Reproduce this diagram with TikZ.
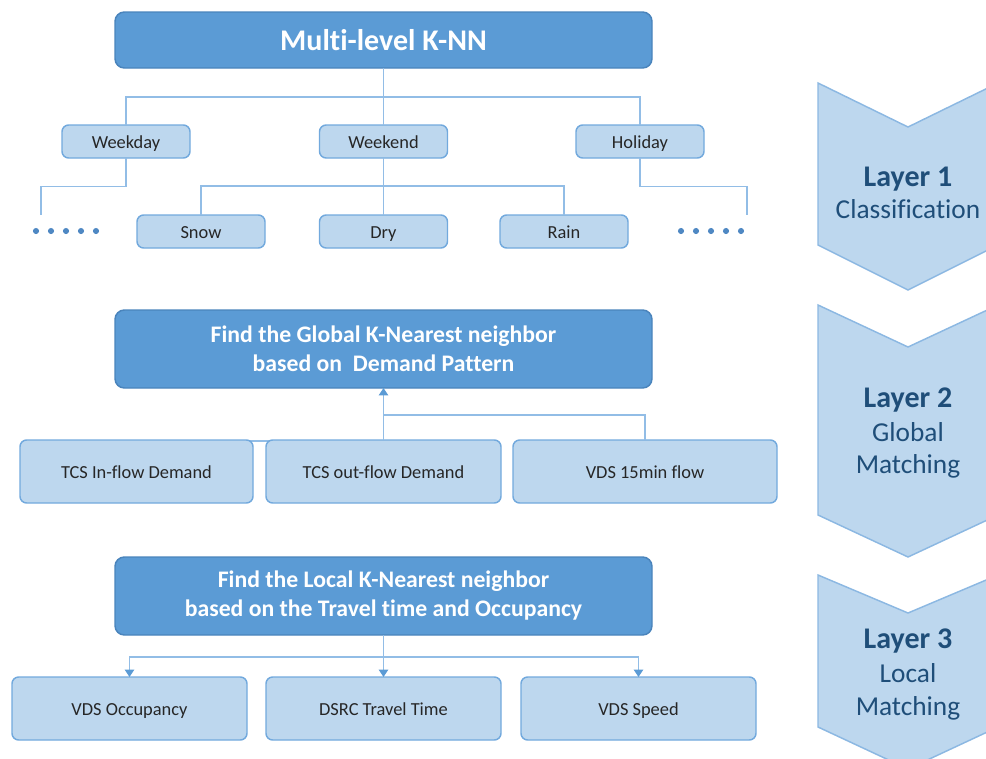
\documentclass[tikz,border=0pt]{standalone}
\usepackage{fontspec}
\setmainfont{Carlito}[Ligatures=NoCommon]
\usetikzlibrary{arrows.meta}
\definecolor{bigfill}{HTML}{5B9BD5}
\definecolor{bigline}{HTML}{4A84BC}
\definecolor{smallfill}{HTML}{BDD7EE}
\definecolor{smallline}{HTML}{72A9DD}
\definecolor{conn}{HTML}{92BDE6}
\definecolor{tipc}{HTML}{5B9BD5}
\definecolor{layertext}{HTML}{1F4E79}
\definecolor{chevfill}{HTML}{BDD7EE}
\definecolor{chevline}{HTML}{8CB8E2}
\definecolor{smalltext}{HTML}{262626}
\definecolor{dotc}{HTML}{4F88C3}
\tikzset{
  bigbox/.style={draw=bigline, fill=bigfill, line width=1.1pt, rounded corners=7pt,
    text=white, align=center, inner sep=0pt, outer sep=0pt, minimum width=402.75pt},
  smallbox/.style={draw=smallline, fill=smallfill, line width=1.1pt, rounded corners=5pt,
    text=smalltext, inner sep=0pt, outer sep=0pt, text height=12pt, text depth=0.8pt,
    font=\fontsize{13.8}{16}\selectfont},
  treebox/.style={smallbox, minimum width=96pt, minimum height=24.75pt, font=\fontsize{13.8}{16}\selectfont},
  wide/.style={smallbox, minimum height=47.25pt},
  connline/.style={draw=conn, line width=1.1pt},
  arr/.style={connline, -{Triangle[width=7pt,length=5.5pt,color=tipc]}},
  chev/.style={fill=chevfill, draw=chevline, line width=1.1pt},
  laybold/.style={anchor=base, text=layertext, font=\fontsize{22.5}{25}\selectfont\bfseries},
  layreg/.style={anchor=base, text=layertext, font=\fontsize{20.5}{25}\selectfont},
  bigtext/.style={font=\fontsize{17.8}{21.75}\selectfont\bfseries},
}
\begin{document}
\begin{tikzpicture}[x=0.75pt,y=-0.75pt]
\clip (0,0) rectangle (986,758);
\useasboundingbox (0,0) rectangle (986,758);

% chevrons
\draw[chev] (818,83) -- (908,127) -- (998,83) -- (998,245) -- (908,290) -- (818,245) -- cycle;
\draw[chev] (818,305) -- (908,347) -- (998,305) -- (998,515) -- (908,557) -- (818,515) -- cycle;
\draw[chev] (818,575) -- (908,613) -- (998,575) -- (998,727) -- (908,769) -- (818,727) -- cycle;
\node[laybold] (l1a) at (908,186) {Layer 1};
\node[layreg]  (l1b) at (908,218) {Classification};
\node[laybold] (l2a) at (908,407) {Layer 2};
\node[layreg]  (l2b) at (908,441) {Global};
\node[layreg]  (l2c) at (908,473) {Matching};
\node[laybold] (l3a) at (908,648) {Layer 3};
\node[layreg]  (l3b) at (908,682) {Local};
\node[layreg]  (l3c) at (908,715) {Matching};

% coordinates for connectors
\coordinate (j1) at (383.5,97);
\coordinate (j2) at (383.5,186);
\coordinate (dl) at (41,215);
\coordinate (dr) at (747,215);
\coordinate (j4) at (383.5,415);
\coordinate (j3) at (383.5,657);

% layer 1 nodes
\node[bigbox, minimum height=42pt, font=\fontsize{22.5}{26}\selectfont\bfseries] (top) at (383.5,40) {Multi-level K-NN};
\node[treebox] (weekday) at (126,141.5) {Weekday};
\node[treebox] (weekend) at (383.5,141.5) {Weekend};
\node[treebox] (holiday) at (640,141.5) {Holiday};
\node[treebox] (snow) at (201,231.5) {Snow};
\node[treebox] (dry) at (383.5,231.5) {Dry};
\node[treebox] (rain) at (564,231.5) {Rain};

% layer 1 connectors
\draw[connline] (top.south) -- (weekend.north);
\draw[connline] (weekday.north) |- (j1) -| (holiday.north);
\draw[connline] (weekend.south) -- (dry.north);
\draw[connline] (snow.north) |- (j2) -| (rain.north);
\draw[connline] (weekday.south) -- ++(0,28.5) -| (dl);
\draw[connline] (holiday.south) -- ++(0,28.5) -| (dr);
\foreach \i in {36,51,66,81,96} {\fill[dotc] (\i,231) circle (2.3pt);}
\foreach \i in {681,696,711,726,741} {\fill[dotc] (\i,231) circle (2.3pt);}

% layer 2
\node[bigbox, minimum height=58.5pt, bigtext] (glob) at (383.5,349)
  {Find the Global K-Nearest neighbor\\based on~~Demand Pattern};
\coordinate (inj) at (136.5,441);
\draw[connline] (inj) -- (383.5,441);
\node[wide, minimum width=174.75pt] (tcsin) at (136.5,471.5) {TCS In-flow Demand};
\node[wide, minimum width=176.25pt] (tcsout) at (383.5,471.5) {TCS out-flow Demand};
\node[wide, minimum width=198pt] (vds15) at (645,471.5) {VDS 15min flow};
\draw[arr] (tcsout.north) -- (glob.south);
\draw[connline] (vds15.north) |- (j4);

% layer 3
\node[bigbox, minimum height=58.5pt, bigtext] (loc) at (383.5,596)
  {Find the Local K-Nearest neighbor\\based on the Travel time and Occupancy};
\node[wide, minimum width=176.25pt] (occ) at (129.5,708.5) {VDS Occupancy};
\node[wide, minimum width=176.25pt] (dsrc) at (383.5,708.5) {DSRC Travel Time};
\node[wide, minimum width=176.25pt] (speed) at (638.5,708.5) {VDS Speed};
\draw[arr] (loc.south) -- (dsrc.north);
\draw[arr] (j3) -| (occ.north);
\draw[arr] (j3) -| (speed.north);
\end{tikzpicture}
\end{document}
